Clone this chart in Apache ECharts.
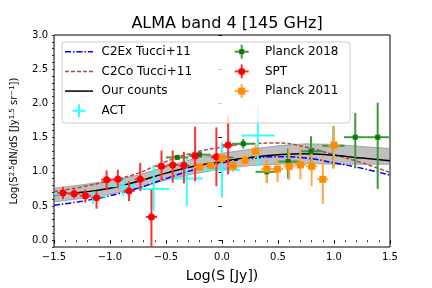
<!DOCTYPE html>
<html><head><meta charset="utf-8">
<script src="https://cdn.jsdelivr.net/npm/echarts@6/dist/echarts.min.js"></script>
<style>html,body{margin:0;padding:0;background:#fff}#c{width:432px;height:288px}</style>
</head><body><div id="c"></div>
<script>
// ---- model curves ----
const curveX    = [-1.5, -1.25, -1.0, -0.75, -0.5, -0.25, 0.0, 0.25, 0.5, 0.75, 1.0, 1.25, 1.5];
const ourCounts = [0.66, 0.70, 0.76, 0.86, 0.98, 1.08, 1.15, 1.21, 1.25, 1.265, 1.24, 1.20, 1.16];
const c2ex      = [0.51, 0.57, 0.65, 0.76, 0.90, 1.03, 1.13, 1.19, 1.22, 1.20, 1.13, 1.05, 0.95];
const c2co      = [0.71, 0.78, 0.87, 0.98, 1.15, 1.28, 1.36, 1.41, 1.42, 1.36, 1.25, 1.13, 0.99];
const bandLow   = [0.56, 0.61, 0.67, 0.76, 0.88, 0.97, 1.04, 1.09, 1.11, 1.12, 1.11, 1.11, 1.11];
const bandHigh  = [0.76, 0.81, 0.87, 0.95, 1.08, 1.19, 1.27, 1.33, 1.38, 1.41, 1.40, 1.37, 1.34];

// ---- ACT ----
const actX    = [-1.43, -1.15, -0.88, -0.61, -0.315, 0.0, 0.32];
const actY    = [0.67, 0.64, 0.79, 0.75, 0.90, 1.03, 1.53];
const actXlo  = [-1.50, -1.17, -1.00, -0.74, -0.46, -0.17, 0.176];
const actXhi  = [-1.37, -1.04, -0.77, -0.47, -0.17, 0.16, 0.47];
const actYlo  = [0.63, 0.53, 0.65, 0.43, 0.50, 0.62, 1.08];
const actYhi  = [0.71, 0.71, 0.91, 1.10, 1.22, 1.43, 1.95];

// ---- SPT ----
const sptX   = [-1.42, -1.32, -1.22, -1.12, -1.03, -0.93, -0.83, -0.73, -0.63, -0.54, -0.44, -0.34, -0.24, -0.05, 0.055];
const sptY   = [0.69, 0.68, 0.65, 0.62, 0.885, 0.89, 0.72, 0.89, 0.34, 1.08, 1.10, 1.09, 1.23, 1.22, 1.39];
const sptYlo = [0.60, 0.61, 0.55, 0.46, 0.74, 0.76, 0.57, 0.72, -0.1, 0.88, 0.84, 0.83, 0.86, 0.79, 0.96];
const sptYhi = [0.78, 0.75, 0.74, 0.72, 1.02, 1.03, 0.86, 1.13, 0.74, 1.31, 1.31, 1.29, 1.66, 1.65, 1.81];
const sptXerr = 0.05;

// ---- Planck 2018 ----
const p18X   = [-0.40, -0.20, 0.0, 0.19, 0.40, 0.59, 0.795, 0.995, 1.19, 1.39];
const p18Y   = [1.21, 1.25, 1.21, 1.41, 1.00, 1.15, 1.30, 1.38, 1.505, 1.505];
const p18Ylo = [1.18, 1.22, 1.17, 1.34, 0.84, 0.90, 1.12, 1.05, 1.05, 0.75];
const p18Yhi = [1.24, 1.28, 1.25, 1.48, 1.17, 1.34, 1.52, 1.67, 1.86, 2.01];
const p18Xerr = 0.1;

// ---- Planck 2011 ----
const p11X   = [-0.20, -0.10, 0.0, 0.10, 0.205, 0.30, 0.40, 0.495, 0.60, 0.70, 0.80, 0.90, 1.00];
const p11Y   = [1.07, 1.09, 1.195, 1.086, 1.17, 1.30, 1.04, 1.04, 1.08, 1.10, 1.08, 0.89, 1.39];
const p11Ylo = [1.02, 1.04, 1.12, 1.00, 1.07, 1.20, 0.84, 0.85, 0.885, 0.89, 0.79, 0.53, 1.05];
const p11Yhi = [1.12, 1.14, 1.27, 1.17, 1.27, 1.40, 1.17, 1.22, 1.34, 1.36, 1.34, 1.22, 1.67];
const p11Xerr = 0.05;

// ---- tick labels ----
const xTicks = [-1.5, -1.0, -0.5, 0.0, 0.5, 1.0, 1.5];
const yTicks = [0.0, 0.5, 1.0, 1.5, 2.0, 2.5, 3.0];
const yMinorTicks = [];
for (let i = -1; i <= 30; i++) yMinorTicks.push(Math.round(i) / 10);

const FONT = 'DejaVu Sans';
const fmt = v => (v < 0 ? '\u2212' : '') + Math.abs(v).toFixed(1);
const zip = (a, b) => a.map((v, i) => [v, b[i]]);

function errData(xs, ys, xlo, xhi, ylo, yhi) {
  return xs.map((x, i) => [x, ys[i], xlo[i], xhi[i], ylo[i], yhi[i]]);
}
function errRender(color, lw) {
  return function (params, api) {
    const x = api.value(0), y = api.value(1);
    const a = api.coord([x, api.value(4)]), b = api.coord([x, api.value(5)]);
    const c = api.coord([api.value(2), y]), d = api.coord([api.value(3), y]);
    return { type: 'group', children: [
      { type: 'line', shape: { x1: a[0], y1: a[1], x2: b[0], y2: b[1] }, style: { stroke: color, lineWidth: lw } },
      { type: 'line', shape: { x1: c[0], y1: c[1], x2: d[0], y2: d[1] }, style: { stroke: color, lineWidth: lw } }
    ]};
  };
}
function bandRender(params, api) {
  if (params.dataIndex !== 0) return null;
  const pts = [];
  for (let i = 0; i < curveX.length; i++) pts.push(api.coord([curveX[i], bandHigh[i]]));
  for (let i = curveX.length - 1; i >= 0; i--) pts.push(api.coord([curveX[i], bandLow[i]]));
  return { type: 'polygon', shape: { points: pts },
    style: { fill: 'rgba(128,128,128,0.5)', stroke: 'rgba(128,128,128,0.6)', lineWidth: 1 } };
}

const sptErr = errData(sptX, sptY, sptX.map(v => v - sptXerr), sptX.map(v => v + sptXerr), sptYlo, sptYhi);
const p18Err = errData(p18X, p18Y, p18X.map(v => v - p18Xerr), p18X.map(v => v + p18Xerr), p18Ylo, p18Yhi);
const p11Err = errData(p11X, p11Y, p11X.map(v => v - p11Xerr), p11X.map(v => v + p11Xerr), p11Ylo, p11Yhi);
const actErr = errData(actX, actY, actXlo, actXhi, actYlo, actYhi);

const chart = echarts.init(document.getElementById('c'), null, { renderer: 'canvas' });

// legend (graphic)
const LX = 62, LY = 42, LW = 288, LH = 81;
const rows = [51.7, 71.4, 91.1, 110.8];
const c2x = 241.7;
const lg = [];
lg.push({ type: 'rect', shape: { x: LX, y: LY, width: LW, height: LH, r: 3 },
  style: { fill: 'rgba(255,255,255,0.8)', stroke: '#cccccc', lineWidth: 1 }, z: 100 });
function lgLine(y, color, dash, lw) {
  lg.push({ type: 'line', shape: { x1: 65, y1: y, x2: 93, y2: y },
    style: { stroke: color, lineWidth: lw, lineDash: dash }, z: 101 });
}
function lgText(x, y, t) {
  lg.push({ type: 'text', x: x, y: y, style: { text: t, font: '12px "DejaVu Sans"', fill: '#000',
    textVerticalAlign: 'middle', verticalAlign: 'middle' }, z: 101 });
}
function lgErr(cx, cy, color, lw, half, marker) {
  lg.push({ type: 'line', shape: { x1: cx - half, y1: cy, x2: cx + half, y2: cy }, style: { stroke: color, lineWidth: lw }, z: 101 });
  lg.push({ type: 'line', shape: { x1: cx, y1: cy - half, x2: cx, y2: cy + half }, style: { stroke: color, lineWidth: lw }, z: 101 });
  if (marker) lg.push(Object.assign({ z: 102 }, marker));
}
lgLine(rows[0], '#0000ff', [6, 2, 1.5, 2], 1.5); lgText(101.5, rows[0], 'C2Ex Tucci+11');
lgLine(rows[1], '#b04848', [4, 2], 1.5);       lgText(101.5, rows[1], 'C2Co Tucci+11');
lgLine(rows[2], '#000000', null, 1.5);         lgText(101.5, rows[2], 'Our counts');
lgErr(79, rows[3], '#33ffff', 2, 6.5, null);   lgText(101.5, rows[3], 'ACT');
lgErr(c2x, rows[0], '#3a9a3a', 2, 7, { type: 'rect', shape: { x: c2x - 2.5, y: rows[0] - 2.5, width: 5, height: 5 }, style: { fill: '#0a780a' } });
lgText(265, rows[0], 'Planck 2018');
lgErr(c2x, rows[1], '#ff3030', 2, 7, { type: 'circle', shape: { cx: c2x, cy: rows[1], r: 3.5 }, style: { fill: '#ff0000' } });
lgText(265, rows[1], 'SPT');
lgErr(c2x, rows[2], '#ffa64d', 2, 7, { type: 'rect', shape: { x: c2x - 3.5, y: rows[2] - 3.5, width: 7, height: 7 }, style: { fill: '#ff8c00' } });
lgText(265, rows[2], 'Planck 2011');

const option = {
  animation: false,
  backgroundColor: '#ffffff',
  textStyle: { fontFamily: FONT },
  title: { text: 'ALMA band 4 [145 GHz]', left: 222, top: 11, textAlign: 'center',
    textStyle: { fontFamily: FONT, fontSize: 16, fontWeight: 'normal', color: '#000' } },
  grid: { left: 54, right: 42, top: 35, bottom: 36, show: true, borderColor: '#000', borderWidth: 1, backgroundColor: 'transparent' },
  xAxis: {
    type: 'value', min: -1.5, max: 1.5, interval: 0.5,
    axisLine: { show: false },
    axisTick: { show: true, inside: false, length: 3.5, lineStyle: { color: '#000', width: 1 } },
    minorTick: { show: true, splitNumber: 5, length: 2, lineStyle: { color: '#000', width: 0.8 } },
    splitLine: { show: false },
    axisLabel: { color: '#000', fontSize: 10, fontFamily: FONT, margin: 5, formatter: fmt },
    name: 'Log(S [Jy])', nameLocation: 'middle', nameGap: 22,
    nameTextStyle: { fontSize: 14, fontFamily: FONT, color: '#000' }
  },
  yAxis: [{
    type: 'value', min: -0.1, max: 3.0,
    axisLine: { show: false },
    axisTick: { show: true, inside: false, length: 3.5, customValues: yTicks, lineStyle: { color: '#000', width: 1 } },
    splitLine: { show: false },
    axisLabel: { color: '#000', fontSize: 10, fontFamily: FONT, margin: 6, customValues: yTicks, formatter: fmt },
    name: 'Log(S{sup|2.5}dN/dS [Jy{sup|1.5} sr{sup|\u22121}])', nameLocation: 'middle', nameGap: 29, nameRotate: 90,
    nameTextStyle: { fontSize: 10, fontFamily: FONT, color: '#000', lineHeight: 13, verticalAlign: 'bottom',
      rich: { sup: { fontSize: 7, fontFamily: FONT, color: '#000', verticalAlign: 'top', lineHeight: 13 } } }
  }, {
    type: 'value', min: -0.1, max: 3.0, position: 'left',
    axisLine: { show: false },
    axisTick: { show: true, inside: false, length: 2, customValues: yMinorTicks, lineStyle: { color: '#000', width: 0.8 } },
    splitLine: { show: false },
    axisLabel: { show: false }
  }],
  graphic: lg,
  series: [
    { type: 'custom', name: 'band', renderItem: bandRender, data: [[curveX[0], bandLow[0]]], z: 1, silent: true, clip: true },
    { type: 'line', name: 'C2Ex Tucci+11', data: zip(curveX, c2ex), smooth: true, symbol: 'none', z: 3,
      lineStyle: { color: '#0000ff', width: 1.5, type: [6, 2, 1.5, 2] } },
    { type: 'line', name: 'C2Co Tucci+11', data: zip(curveX, c2co), smooth: true, symbol: 'none', z: 3,
      lineStyle: { color: '#b04848', width: 1.5, type: [4, 2] } },
    { type: 'line', name: 'Our counts', data: zip(curveX, ourCounts), smooth: true, symbol: 'none', z: 3,
      lineStyle: { color: '#000000', width: 1.5 } },
    { type: 'custom', name: 'ACT', renderItem: errRender('#33ffff', 2), data: actErr, z: 4, clip: true,
      encode: { x: [0, 2, 3], y: [1, 4, 5] } },
    { type: 'custom', name: 'Planck 2018', renderItem: errRender('#3a9a3a', 2), data: p18Err, z: 4, clip: true,
      encode: { x: [0, 2, 3], y: [1, 4, 5] } },
    { type: 'scatter', name: 'Planck 2018 pts', data: zip(p18X, p18Y), symbol: 'rect', symbolSize: 5, z: 5,
      itemStyle: { color: '#0a780a', opacity: 1 } },
    { type: 'custom', name: 'SPT', renderItem: errRender('#ff3030', 2), data: sptErr, z: 4, clip: true,
      encode: { x: [0, 2, 3], y: [1, 4, 5] } },
    { type: 'scatter', name: 'SPT pts', data: zip(sptX, sptY), symbol: 'circle', symbolSize: 7, z: 5,
      itemStyle: { color: '#ff0000', opacity: 1 } },
    { type: 'custom', name: 'Planck 2011', renderItem: errRender('#ffa64d', 2), data: p11Err, z: 4, clip: true,
      encode: { x: [0, 2, 3], y: [1, 4, 5] } },
    { type: 'scatter', name: 'Planck 2011 pts', data: zip(p11X, p11Y), symbol: 'rect', symbolSize: 7, z: 5,
      itemStyle: { color: '#ff8c00', opacity: 1 } }
  ]
};
chart.setOption(option);
</script>
</body></html>
